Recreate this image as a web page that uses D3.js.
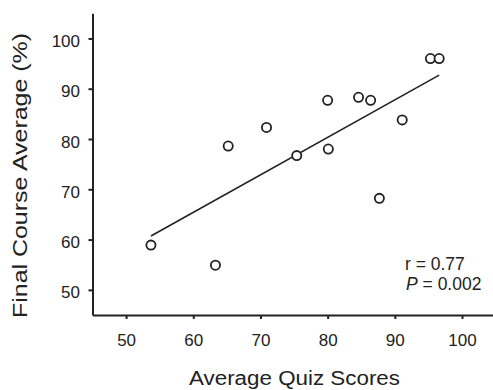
<!DOCTYPE html>
<html>
<head>
<meta charset="utf-8">
<script src="https://cdn.jsdelivr.net/npm/d3@7"></script>
<style>
  html, body { margin: 0; padding: 0; background: #fff; }
  svg { display: block; }
  text { font-family: "Liberation Sans", Arial, Helvetica, sans-serif; fill: #222; }
</style>
</head>
<body>
<svg id="chart" width="493" height="390"></svg>
<script>
// Data
const quizScores  = [53.7, 63.3, 65.2, 70.9, 75.4, 80.0, 80.1, 84.6, 86.4, 87.7, 91.1, 95.3, 96.6];
const finalScores = [58.9, 54.9, 78.6, 82.3, 76.7, 87.7, 78.0, 88.3, 87.7, 68.2, 83.8, 96.0, 96.0];
const fitLineX = [53.7, 96.6];
const fitLineY = [60.7, 92.7];
const xTicks = [50, 60, 70, 80, 90, 100];
const yTicks = [50, 60, 70, 80, 90, 100];
const xTitle = "Average Quiz Scores";
const yTitle = "Final Course Average (%)";
const statR = "r = 0.77";
const statP = "= 0.002";

const svg = d3.select("#chart");
const ink = "#222";

const x = d3.scaleLinear().domain([45, 105]).range([92.5, 495.6]);
const y = d3.scaleLinear().domain([45, 105]).range([315, 13.3]);

// Axes
const xAxis = svg.append("g")
  .attr("transform", `translate(0,${y(45)})`)
  .call(d3.axisBottom(x).tickValues(xTicks).tickSize(4).tickSizeOuter(0).tickPadding(15));
const yAxis = svg.append("g")
  .attr("transform", `translate(${x(45)},0)`)
  .call(d3.axisLeft(y).tickValues(yTicks).tickSize(4).tickSizeOuter(0).tickPadding(8.5));

[xAxis, yAxis].forEach(g => {
  g.select(".domain").attr("stroke", ink).attr("stroke-width", 2);
  g.selectAll(".tick line").attr("stroke", ink).attr("stroke-width", 2);
  g.selectAll(".tick text")
    .attr("fill", ink)
    .style("font-size", "17px")
    .style("font-family", '"Liberation Sans", Arial, sans-serif');
});
yAxis.selectAll(".tick text").attr("dy", "0.47em");

// Regression line
const lineData = fitLineX.map((v, i) => [v, fitLineY[i]]);
svg.append("path")
  .datum(lineData)
  .attr("fill", "none")
  .attr("stroke", ink)
  .attr("stroke-width", 1.6)
  .attr("d", d3.line().x(d => x(d[0])).y(d => y(d[1])));

// Points
const pts = quizScores.map((v, i) => ({ q: v, f: finalScores[i] }));
svg.append("g").selectAll("circle")
  .data(pts)
  .join("circle")
  .attr("cx", d => x(d.q))
  .attr("cy", d => y(d.f))
  .attr("r", 4.6)
  .attr("fill", "#fff")
  .attr("stroke", ink)
  .attr("stroke-width", 1.8);

// Axis titles
svg.append("text")
  .attr("x", 294.5)
  .attr("y", 385)
  .attr("text-anchor", "middle")
  .attr("textLength", 211)
  .attr("lengthAdjust", "spacingAndGlyphs")
  .style("font-size", "20px")
  .text(xTitle);

svg.append("text")
  .attr("transform", "translate(27,175.5) rotate(-90)")
  .attr("text-anchor", "middle")
  .attr("textLength", 285)
  .attr("lengthAdjust", "spacingAndGlyphs")
  .style("font-size", "20px")
  .text(yTitle);

// Stats annotation
svg.append("text")
  .attr("x", 405)
  .attr("y", 270)
  .style("font-size", "17.5px")
  .text(statR);

const pText = svg.append("text")
  .attr("x", 406)
  .attr("y", 290)
  .style("font-size", "17.5px");
pText.append("tspan").style("font-style", "italic").text("P");
pText.append("tspan").text(" " + statP);
</script>
</body>
</html>
